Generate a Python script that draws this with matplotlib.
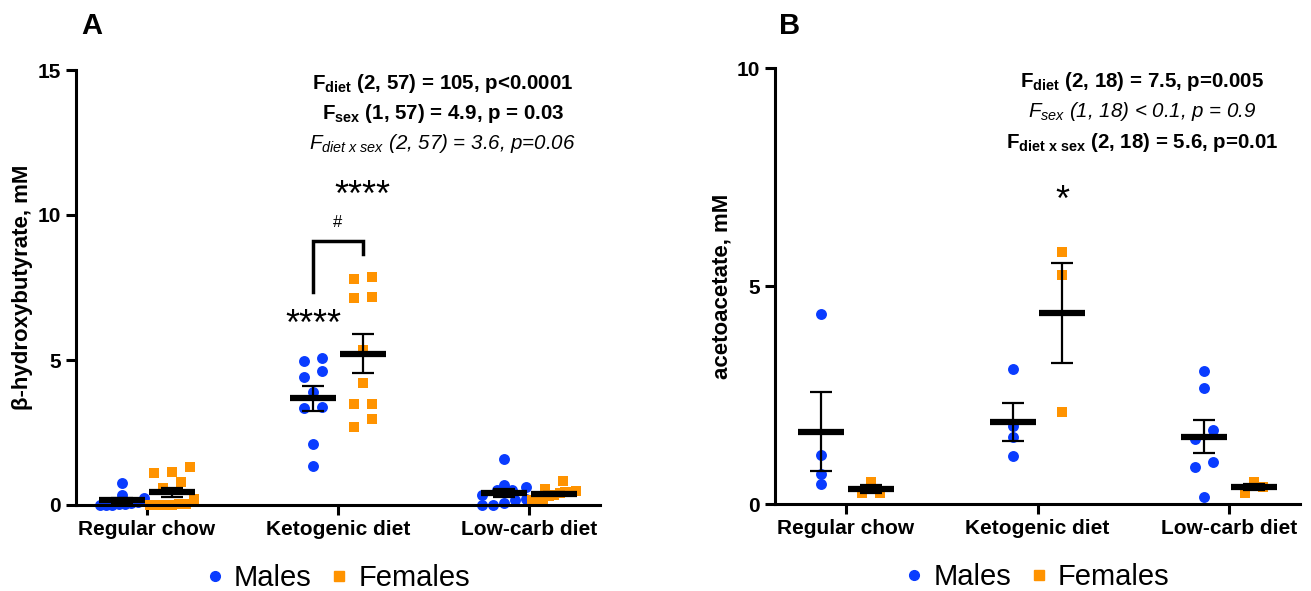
"""Ketone bodies by diet and sex: beta-hydroxybutyrate (A) and acetoacetate (B)."""

import matplotlib
matplotlib.use("Agg")
import matplotlib.pyplot as plt
import numpy as np
from matplotlib.lines import Line2D

plt.rcParams["font.family"] = ["Liberation Sans", "DejaVu Sans"]
plt.rcParams["mathtext.fontset"] = "custom"
plt.rcParams["mathtext.rm"] = "Liberation Sans"
plt.rcParams["mathtext.bf"] = "Liberation Sans:bold"
plt.rcParams["mathtext.it"] = "Liberation Sans:italic"

diets = ["Regular chow", "Ketogenic diet", "Low-carb diet"]

# panel A: beta-hydroxybutyrate, mM
bhb_males = [
    [0.75, 0.34, 0.24, 0.12, 0.05, 0.0, 0.0, 0.02, 0.08, 0.0],
    [5.07, 4.97, 4.62, 4.41, 3.9, 3.34, 3.38, 2.1, 1.34],
    [1.59, 0.69, 0.62, 0.52, 0.52, 0.34, 0.2, 0.17, 0.07, 0.0, 0.0],
]
bhb_females = [
    [1.31, 1.14, 1.1, 0.8, 0.6, 0.2, 0.05, 0.05, 0.0, 0.0, 0.0, 0.0],
    [7.8, 7.86, 7.14, 7.17, 5.34, 4.2, 3.5, 3.5, 2.97, 2.7],
    [0.83, 0.55, 0.5, 0.45, 0.45, 0.4, 0.35, 0.3, 0.17, 0.17, 0.17],
]

# panel B: acetoacetate, mM
aca_males = [
    [4.36, 1.13, 0.69, 0.46],
    [3.1, 1.79, 1.53, 1.09],
    [3.04, 2.66, 1.69, 1.48, 0.96, 0.84, 0.15],
]
aca_females = [
    [0.51, 0.26, 0.26],
    [5.77, 5.25, 2.11],
    [0.51, 0.38, 0.26],
]

stats_a = [
    (r"$\mathbf{F_{diet}}$ (2, 57) = 105, p<0.0001", "bold", "normal"),
    (r"$\mathbf{F_{sex}}$ (1, 57) = 4.9, p = 0.03", "bold", "normal"),
    (r"$\mathit{F_{diet\ x\ sex}}$ (2, 57) = 3.6, p=0.06", "normal", "italic"),
]
stats_b = [
    (r"$\mathbf{F_{diet}}$ (2, 18) = 7.5, p=0.005", "bold", "normal"),
    (r"$\mathit{F_{sex}}$ (1, 18) < 0.1, p = 0.9", "normal", "italic"),
    (r"$\mathbf{F_{diet\ x\ sex}}$ (2, 18) = 5.6, p=0.01", "bold", "normal"),
]

BLUE = "#0a3cff"
ORANGE = "#ff9300"
OFFSET = 0.13
ROW_PX = 9.8     # points closer than this (vertically) share a row
MAX_GAP_PX = 18  # horizontal spacing for a pair
ROW_WIDTH_PX = 44


def scatter_offsets(values, axis):
    """Row-based scatter layout (GraphPad-like): symmetric offsets per row."""
    bbox = axis.get_window_extent()
    x0, x1 = axis.get_xlim()
    y0, y1 = axis.get_ylim()
    px_x = bbox.width / (x1 - x0)
    px_y = bbox.height / (y1 - y0)
    order = np.argsort(values, kind="stable")
    offsets = np.zeros(len(values))
    rows = []
    for idx in order:
        if rows and (values[idx] - values[rows[-1][0]]) * px_y < ROW_PX:
            rows[-1].append(idx)
        else:
            rows.append([idx])
    for row in rows:
        n = len(row)
        if n == 1:
            continue
        gap = min(MAX_GAP_PX, ROW_WIDTH_PX / (n - 1))
        for k, idx in enumerate(row):
            offsets[idx] = (k - (n - 1) / 2) * gap / px_x
    return offsets


def draw_group(axis, center, values, color, marker):
    values = np.asarray(values, dtype=float)
    xs = center + scatter_offsets(values, axis)
    axis.scatter(xs, values, s=62, marker=marker,
                 color=color, linewidths=0, zorder=2, clip_on=False)
    mean = values.mean()
    sem = values.std(ddof=1) / np.sqrt(len(values))
    axis.hlines(mean, center - 0.12, center + 0.12, color="black", lw=4.5, zorder=3)
    axis.errorbar(center, mean, yerr=sem, fmt="none", ecolor="black",
                  elinewidth=1.6, capsize=8, capthick=1.6, zorder=3)


def style_axis(axis, ymax, ylabel):
    axis.set_xlim(-0.37, 2.37)
    axis.set_ylim(0, ymax)
    axis.set_yticks(np.arange(0, ymax + 1, 5))
    axis.set_xticks(range(3))
    axis.set_xticklabels(diets, fontsize=15, fontweight="bold")
    for lab in axis.get_yticklabels():
        lab.set_fontweight("bold")
        lab.set_fontsize(15)
    axis.spines["top"].set_visible(False)
    axis.spines["right"].set_visible(False)
    axis.spines["left"].set_linewidth(2.2)
    axis.spines["bottom"].set_linewidth(2.2)
    axis.tick_params(width=2.2, length=7, pad=4)
    axis.set_ylabel(ylabel, fontsize=16, fontweight="bold", labelpad=3)


def draw_panel(axis, males, females, ymax, ylabel):
    style_axis(axis, ymax, ylabel)
    for i in range(3):
        draw_group(axis, i - OFFSET, males[i], BLUE, "o")
        draw_group(axis, i + OFFSET, females[i], ORANGE, "s")


def draw_stats(axis, lines, x, y0, step):
    for k, (txt, weight, style) in enumerate(lines):
        axis.text(x, y0 - k * step, txt, transform=axis.transAxes, ha="center",
                  va="center", fontsize=14.8, fontweight=weight, fontstyle=style)


def draw_legend(axis):
    handles = [
        Line2D([], [], marker="o", color=BLUE, ls="none", markersize=7, label="Males"),
        Line2D([], [], marker="s", color=ORANGE, ls="none", markersize=7, label="Females"),
    ]
    axis.legend(handles=handles, loc="center", bbox_to_anchor=(0.5, -0.168),
                ncol=2, frameon=False, fontsize=21, handletextpad=0.35,
                columnspacing=0.65, handlelength=0.6, borderpad=0)


fig = plt.figure(figsize=(13.11, 5.91), dpi=100)
W, H = 1311, 591
ax_a = fig.add_axes([76 / W, (H - 505) / H, (600 - 76) / W, (505 - 70) / H])
ax_b = fig.add_axes([775 / W, (H - 504) / H, (1300 - 775) / W, (504 - 68) / H])

draw_panel(ax_a, bhb_males, bhb_females, 15, "β-hydroxybutyrate, mM")
draw_panel(ax_b, aca_males, aca_females, 10, "acetoacetate, mM")

draw_stats(ax_a, stats_a, 0.70, 0.97, 0.07)
draw_stats(ax_b, stats_b, 0.70, 0.97, 0.07)

# significance marks, panel A
ax_a.text(1 - OFFSET, 6.2, "****", ha="center", va="center", fontsize=26)
ax_a.text(1 + OFFSET, 10.65, "****", ha="center", va="center", fontsize=26)
ax_a.plot([1 - OFFSET, 1 - OFFSET, 1 + OFFSET, 1 + OFFSET], [7.35, 9.1, 9.1, 8.65],
          color="black", lw=2.5, solid_joinstyle="miter")
ax_a.text(1, 9.75, "#", ha="center", va="center", fontsize=12)
# panel B
ax_b.text(1 + OFFSET, 6.95, "*", ha="center", va="center", fontsize=26)

draw_legend(ax_a)
draw_legend(ax_b)

fig.text(92 / W, 1 - 26 / H, "A", fontsize=21, fontweight="bold", ha="center", va="center")
fig.text(790 / W, 1 - 26 / H, "B", fontsize=21, fontweight="bold", ha="center", va="center")

fig.savefig("out.png", dpi=100)
